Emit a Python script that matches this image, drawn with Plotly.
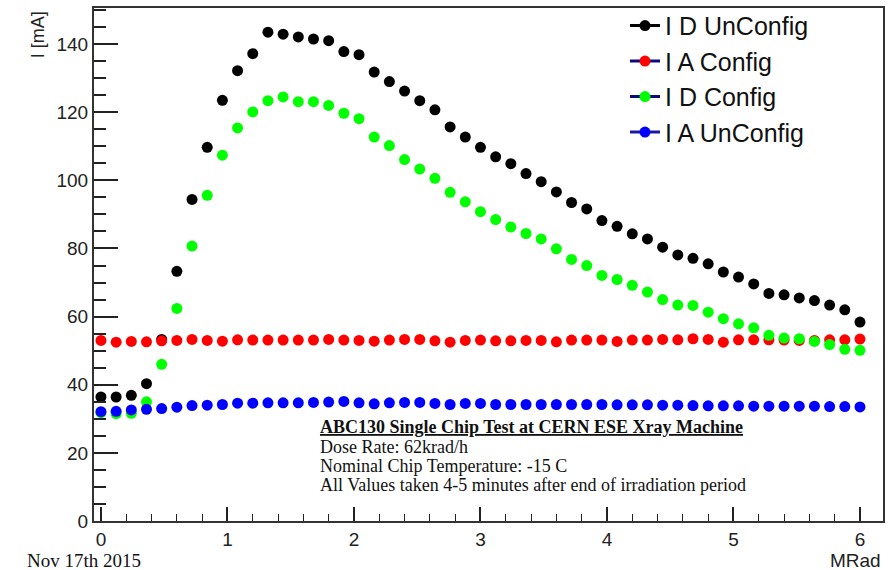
import plotly.graph_objects as go

dose_mrad = [0.0, 0.12, 0.24, 0.36, 0.48, 0.6, 0.72, 0.84, 0.96, 1.08,
             1.2, 1.32, 1.44, 1.56, 1.68, 1.8, 1.92, 2.04, 2.16, 2.28,
             2.4, 2.52, 2.64, 2.76, 2.88, 3.0, 3.12, 3.24, 3.36, 3.48,
             3.6, 3.72, 3.84, 3.96, 4.08, 4.2, 4.32, 4.44, 4.56, 4.68,
             4.8, 4.92, 5.04, 5.16, 5.28, 5.4, 5.52, 5.64, 5.76, 5.88, 6.0]

id_unconfig = [36.4, 36.4, 36.9, 40.3, 53.3, 73.3, 94.4, 109.7, 123.5, 132.2,
               137.2, 143.5, 142.9, 142.1, 141.5, 141.0, 137.8, 136.9, 131.8, 129.0,
               126.2, 123.4, 120.7, 115.7, 112.7, 109.7, 106.9, 104.9, 102.0, 99.6,
               96.6, 93.5, 91.6, 88.2, 86.5, 84.3, 82.8, 80.4, 78.1, 77.1,
               75.5, 73.1, 71.6, 69.6, 66.8, 66.4, 65.5, 64.7, 63.4, 62.0, 58.4]

ia_config = [53.0, 52.5, 52.7, 52.6, 52.9, 53.0, 53.3, 53.0, 52.8, 53.2,
             53.1, 53.1, 53.1, 53.1, 53.1, 53.3, 53.1, 53.0, 52.8, 53.1,
             53.3, 53.3, 52.9, 52.5, 53.0, 53.1, 52.9, 52.9, 53.0, 53.0,
             52.6, 53.1, 53.1, 53.1, 52.7, 53.1, 53.1, 53.3, 53.2, 53.5,
             53.3, 52.5, 53.2, 53.2, 53.2, 53.1, 53.0, 53.0, 53.2, 53.2, 53.4]

id_config = [31.8, 31.5, 31.6, 35.0, 46.0, 62.4, 80.7, 95.6, 107.4, 115.4,
             120.1, 123.4, 124.5, 123.1, 123.1, 122.0, 119.7, 118.1, 112.7, 110.2,
             106.1, 103.3, 100.6, 96.5, 93.7, 90.8, 88.5, 86.3, 84.4, 82.8,
             79.9, 76.8, 75.0, 72.1, 70.9, 69.2, 67.2, 65.0, 63.4, 63.3,
             61.3, 59.4, 57.9, 56.7, 54.5, 53.7, 53.5, 52.7, 51.8, 50.4, 50.1]

ia_unconfig = [32.1, 32.2, 32.6, 32.8, 33.0, 33.4, 33.9, 34.0, 34.2, 34.6,
               34.6, 34.7, 34.7, 34.7, 34.8, 34.9, 35.1, 34.7, 34.4, 34.7,
               34.8, 34.8, 34.5, 34.2, 34.5, 34.5, 34.2, 34.2, 34.2, 34.2,
               34.2, 34.2, 34.2, 34.2, 34.1, 34.1, 34.1, 34.0, 34.0, 33.9,
               33.8, 33.8, 33.8, 33.7, 33.7, 33.7, 33.7, 33.7, 33.6, 33.6, 33.5]

series_names = ["I D UnConfig", "I A Config", "I D Config", "I A UnConfig"]
series_values = [id_unconfig, ia_config, id_config, ia_unconfig]
marker_colors = ["#000000", "#ff0000", "#00ff00", "#0000ff"]
legend_line_colors = ["#000000", "#0a0a80", "#0a0a80", "#1a1aa0"]

y_ticks = [0, 20, 40, 60, 80, 100, 120, 140]
x_ticks = [0, 1, 2, 3, 4, 5, 6]

fig = go.Figure()

for name, vals, mc in zip(series_names, series_values, marker_colors):
    fig.add_trace(go.Scatter(
        x=dose_mrad, y=vals, mode="markers", name=name, showlegend=False,
        marker=dict(color=mc, size=11, line=dict(width=0)),
    ))

for name, mc, lc in zip(series_names, marker_colors, legend_line_colors):
    fig.add_trace(go.Scatter(
        x=[None], y=[None], mode="lines+markers", name=name,
        line=dict(color=lc, width=3),
        marker=dict(color=mc, size=11),
    ))

sans = "Liberation Sans, Arial, sans-serif"
serif = "Liberation Serif, Times New Roman, serif"

fig.update_layout(
    width=893, height=570,
    margin=dict(l=94, r=10, t=8, b=49, autoexpand=False),
    paper_bgcolor="white", plot_bgcolor="white",
    showlegend=True,
    legend=dict(
        x=0.673, y=1.01, xanchor="left", yanchor="top",
        font=dict(family=sans, size=25, color="#111"),
        bgcolor="rgba(0,0,0,0)", borderwidth=0,
        tracegroupgap=0, itemsizing="trace",
    ),
    xaxis=dict(
        range=[-0.055, 6.182], tickvals=x_ticks, ticktext=[str(t) for t in x_ticks],
        ticks="inside", ticklen=14, tickwidth=1.5, tickcolor="#222",
        minor=dict(ticks="inside", ticklen=7, dtick=0.2, tickwidth=1, tickcolor="#222"),
        showline=True, linecolor="#333", linewidth=2, mirror=True,
        showgrid=False, zeroline=False,
        tickfont=dict(family=sans, size=19, color="#222"),
    ),
    yaxis=dict(
        range=[0, 150.6], tickvals=y_ticks, ticktext=[str(t) for t in y_ticks],
        ticks="inside", ticklen=24, tickwidth=1.5, tickcolor="#222",
        minor=dict(ticks="inside", ticklen=12, dtick=5, tickwidth=1.5, tickcolor="#222"),
        showline=True, linecolor="#333", linewidth=2, mirror=True,
        showgrid=False, zeroline=False,
        tickfont=dict(family=sans, size=19, color="#222"),
    ),
)

ann = []
ann.append(dict(text="I [mA]", xref="paper", yref="paper", x=-0.071, y=0.949,
                xanchor="center", yanchor="middle", textangle=-90, showarrow=False,
                font=dict(family=sans, size=18, color="#222")))
ann.append(dict(text="MRad", xref="paper", yref="paper", x=1.0, y=(521 - 560) / 513,
                xanchor="right", yanchor="middle", showarrow=False,
                font=dict(family=sans, size=19, color="#222")))
ann.append(dict(text="Nov 17th 2015", xref="paper", yref="paper", x=-0.0127, y=(521 - 560) / 513,
                xanchor="center", yanchor="middle", showarrow=False,
                font=dict(family=serif, size=19, color="#111")))

info_lines = [
    ("<b><u>ABC130 Single Chip Test at CERN ESE Xray Machine</u></b>", 427),
    ("Dose Rate: 62krad/h", 447),
    ("Nominal Chip Temperature: -15 C", 466),
    ("All Values taken 4-5 minutes after end of irradiation period", 485),
]
for txt, ypix in info_lines:
    ann.append(dict(text=txt, xref="paper", yref="paper",
                    x=(318 - 94) / 789, y=(521 - ypix) / 513,
                    xanchor="left", yanchor="middle", showarrow=False,
                    font=dict(family=serif, size=18, color="#111")))
fig.update_layout(annotations=ann)

fig.write_html("out.html")
